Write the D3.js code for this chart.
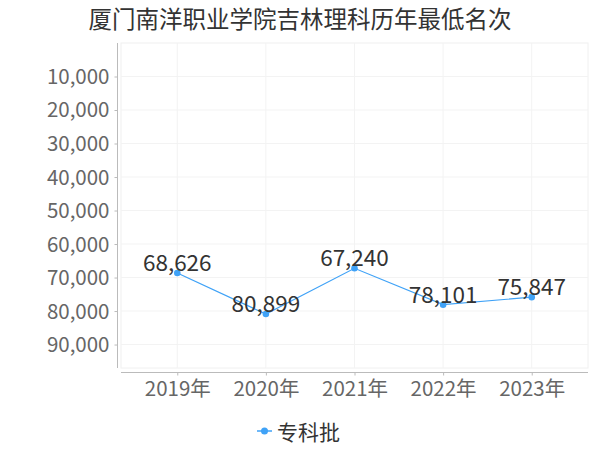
<!DOCTYPE html>
<html>
<head>
<meta charset="utf-8">
<script src="https://cdn.jsdelivr.net/npm/d3@7"></script>
<style>
  body { margin: 0; background: #fff; }
  text { font-family: "Noto Sans CJK SC", "Noto Sans", sans-serif; }
</style>
</head>
<body>
<div id="chart"></div>
<script>
// chart data
var title = "厦门南洋职业学院吉林理科历年最低名次";
var years = ["2019年", "2020年", "2021年", "2022年", "2023年"];
var ranks = [68626, 80899, 67240, 78101, 75847];
var seriesName = "专科批";
var yTicks = [10000, 20000, 30000, 40000, 50000, 60000, 70000, 80000, 90000];

var W = 600, H = 450;
var color = "#3fa2f7";
var box = {left: 121, right: 588, top: 43, bottom: 368};

var svg = d3.select("#chart").append("svg")
  .attr("width", W).attr("height", H);

svg.append("text")
  .attr("x", 300).attr("y", 18)
  .attr("text-anchor", "middle").attr("dominant-baseline", "central")
  .style("font-size", "23.5px").style("fill", "#333")
  .text(title);

var x = d3.scalePoint().domain(years)
  .range([box.left, box.right]).padding(0.635);
// ranks: smaller is better, so 0 at top
var y = d3.scaleLinear().domain([0, 97000]).range([box.top, box.bottom]);

// plot frame + grid
svg.append("rect")
  .attr("x", box.left).attr("y", box.top)
  .attr("width", box.right - box.left).attr("height", box.bottom - box.top)
  .style("fill", "none").style("stroke", "#f0f0f0");

svg.selectAll(".hgrid").data(yTicks).enter().append("line")
  .attr("x1", box.left).attr("x2", box.right)
  .attr("y1", function(d){ return y(d); }).attr("y2", function(d){ return y(d); })
  .style("stroke", "#f3f3f3");

svg.selectAll(".vgrid").data(years).enter().append("line")
  .attr("x1", function(d){ return x(d); }).attr("x2", function(d){ return x(d); })
  .attr("y1", box.top).attr("y2", box.bottom)
  .style("stroke", "#f3f3f3");

// y axis
var yAxis = svg.append("g")
  .attr("transform", "translate(117.5,0)")
  .call(d3.axisLeft(y).tickValues(yTicks).tickSize(3).tickPadding(5)
    .tickFormat(d3.format(",")));
yAxis.select(".domain").attr("d", "M0," + box.top + "V" + box.bottom)
  .style("stroke", "#bbb");
yAxis.selectAll(".tick line").style("stroke", "#bbb");
yAxis.selectAll(".tick text").attr("dy", "0.34em")
  .style("font-size", "20.5px").style("fill", "#666")
  .style("font-family", "Noto Sans CJK SC");

// x axis
var xAxis = svg.append("g")
  .attr("transform", "translate(0,372.5)")
  .call(d3.axisBottom(x).tickSize(3).tickPadding(6));
xAxis.select(".domain").attr("d", "M" + box.left + ",0H" + box.right)
  .style("stroke", "#bbb");
xAxis.selectAll(".tick line").style("stroke", "#bbb");
xAxis.selectAll(".tick text").style("font-size", "20.5px").style("fill", "#666")
  .style("font-family", "Noto Sans CJK SC");

// line + points
var line = d3.line()
  .x(function(d, i){ return x(years[i]); })
  .y(function(d){ return y(d); });

svg.append("path").datum(ranks)
  .attr("d", line)
  .style("fill", "none").style("stroke", color).style("stroke-width", 1.2);

svg.selectAll(".pt").data(ranks).enter().append("circle")
  .attr("cx", function(d, i){ return x(years[i]); })
  .attr("cy", function(d){ return y(d); })
  .attr("r", 3.3)
  .style("fill", color);

svg.selectAll(".lbl").data(ranks).enter().append("text")
  .attr("x", function(d, i){ return x(years[i]); })
  .attr("y", function(d){ return y(d) - 12; })
  .attr("text-anchor", "middle").attr("dominant-baseline", "central")
  .style("font-size", "22.5px").style("fill", "#333")
  .text(function(d){ return d3.format(",")(d); });

// legend
var lg = svg.append("g").attr("transform", "translate(0,431)");
lg.append("line").attr("x1", 257).attr("x2", 272).attr("y1", 0).attr("y2", 0)
  .style("stroke", color).style("stroke-width", 1.5);
lg.append("circle").attr("cx", 264.5).attr("cy", 0).attr("r", 3.5).style("fill", color);
lg.append("text").attr("x", 277).attr("y", 0)
  .attr("dominant-baseline", "central")
  .style("font-size", "21px").style("fill", "#333")
  .text(seriesName);
</script>
</body>
</html>
